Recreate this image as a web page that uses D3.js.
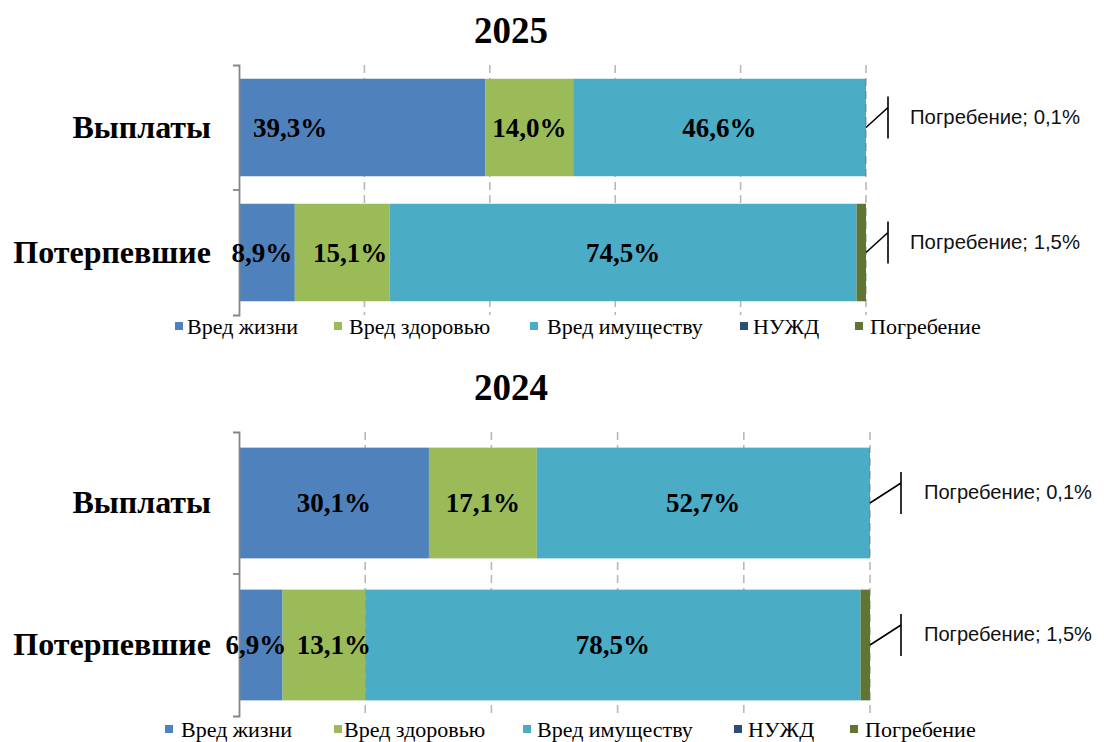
<!DOCTYPE html>
<html>
<head>
<meta charset="utf-8">
<script src="https://cdn.jsdelivr.net/npm/d3@7"></script>
<style>
  html, body { margin: 0; padding: 0; background: #fff; }
  svg { display: block; }
</style>
</head>
<body>
<svg id="chart" width="1104" height="742"></svg>
<script>
// ---- data ----
const categories = ["Выплаты", "Потерпевшие"];
const seriesNames = ["Вред жизни", "Вред здоровью", "Вред имуществу", "НУЖД", "Погребение"];
const seriesColors = ["#4F81BD", "#9BBB59", "#4BACC6", "#2C4D75", "#617532"];
const years = ["2025", "2024"];
const payments2025 = [39.3, 14.0, 46.6, 0, 0.1];
const victims2025 = [8.9, 15.1, 74.5, 0, 1.5];
const payments2024 = [30.1, 17.1, 52.7, 0, 0.1];
const victims2024 = [6.9, 13.1, 78.5, 0, 1.5];
const xTicks = [0, 20, 40, 60, 80, 100];

// ---- layout ----
const panels = [
  { year: years[0], rows: [payments2025, victims2025],
    x0: 239, x1: 866, y0: 65, y1: 315, titleY: 43,
    legendY: 326, legendX: [175, 334, 530, 740, 855], legendGap: [12, 15, 17, 13, 15],
    leadDx: 22, leadLabelX: 910, leadLen: 170, labelShift: { "0-0": -72, "1-0": -5, "1-1": 8 } },
  { year: years[1], rows: [payments2024, victims2024],
    x0: 239, x1: 870, y0: 432, y1: 716, titleY: 400,
    legendY: 729, legendX: [165, 334, 523, 734, 850], legendGap: [16, 10, 14, 14, 15],
    leadDx: 31, leadLabelX: 924, leadLen: 168, labelShift: { "1-0": -5, "1-1": 10 } }
];

const svg = d3.select("#chart");
const fmt = v => v.toFixed(1).replace(".", ",") + "%";
const serif = "'Liberation Serif', 'Times New Roman', serif";

panels.forEach(p => {
  const g = svg.append("g");
  const x = d3.scaleLinear().domain([0, 100]).range([p.x0, p.x1]);
  const y = d3.scaleBand().domain(categories).range([p.y0, p.y1])
    .paddingInner(0.22).paddingOuter(0.11);

  const table = categories.map((c, i) => {
    const o = { category: c };
    seriesNames.forEach((s, j) => o[s] = p.rows[i][j]);
    return o;
  });
  const stacked = d3.stack().keys(seriesNames)(table);

  // title
  g.append("text")
    .attr("x", 511).attr("y", p.titleY)
    .attr("text-anchor", "middle")
    .style("font-family", serif)
    .style("font-weight", "bold").style("font-size", "37px")
    .text(p.year);

  // gridlines
  g.append("g").selectAll("line")
    .data(xTicks.filter(t => t > 0))
    .join("line")
    .attr("x1", d => x(d)).attr("x2", d => x(d))
    .attr("y1", p.y0).attr("y2", p.y1)
    .attr("stroke", "#B8B8B8").attr("stroke-width", 1.6)
    .attr("stroke-dasharray", "8,5");

  // bars
  stacked.forEach((layer, j) => {
    g.append("g").attr("fill", seriesColors[j])
      .selectAll("rect")
      .data(layer.filter(d => d[1] - d[0] > 0))
      .join("rect")
      .attr("x", d => x(d[0]))
      .attr("width", d => x(d[1]) - x(d[0]))
      .attr("y", d => y(d.data.category))
      .attr("height", y.bandwidth());
  });

  // axis
  const axis = d3.axisLeft(y).tickSizeInner(0).tickSizeOuter(6).tickPadding(28);
  const ag = g.append("g").attr("transform", `translate(${p.x0},0)`).call(axis);
  ag.select(".domain").attr("stroke", "#868686").attr("stroke-width", 1.8);
  ag.selectAll(".tick text")
    .style("font-family", serif)
    .style("font-weight", "bold").style("font-size", "32px")
    .attr("fill", "#000");
  // category boundary tick
  ag.append("line")
    .attr("x1", -6).attr("x2", 0)
    .attr("y1", p.y0 + y.step()).attr("y2", p.y0 + y.step())
    .attr("stroke", "#868686").attr("stroke-width", 1.8);

  // data labels (first three series)
  stacked.slice(0, 3).forEach((layer, j) => {
    g.append("g").selectAll("text")
      .data(layer.map((d, i) => ({ d, i })).filter(o => o.d[1] - o.d[0] > 0))
      .join("text")
      .attr("x", o => (x(o.d[0]) + x(o.d[1])) / 2 + (p.labelShift[o.i + "-" + j] || 0))
      .attr("y", o => y(o.d.data.category) + y.bandwidth() / 2)
      .attr("dy", "0.35em")
      .attr("text-anchor", "middle")
      .style("font-family", serif)
      .style("font-weight", "bold").style("font-size", "27px")
      .text(o => fmt(o.d[1] - o.d[0]));
  });

  // callouts for the last series
  const last = stacked[stacked.length - 1];
  last.forEach(d => {
    const v = d[1] - d[0];
    if (v <= 0) return;
    const sx = x(d[1]);
    const sy = y(d.data.category) + y.bandwidth() / 2;
    const vx = sx + p.leadDx;
    const vy = sy - 20;
    g.append("path")
      .attr("d", `M${sx},${sy}L${vx},${vy}M${vx},${vy - 11}V${vy + 31}`)
      .attr("fill", "none").attr("stroke", "#000").attr("stroke-width", 1.6);
    g.append("text")
      .attr("x", p.leadLabelX).attr("y", vy + 9)
      .attr("dy", "0.35em")
      .attr("textLength", p.leadLen).attr("lengthAdjust", "spacingAndGlyphs")
      .style("font-family", "'Liberation Sans Narrow', 'Liberation Sans', Arial, sans-serif")
      .style("font-size", "21px").attr("fill", "#111")
      .text(`${last.key}; ${fmt(v)}`);
  });

  // legend
  const lg = g.append("g");
  seriesNames.forEach((s, j) => {
    lg.append("rect")
      .attr("x", p.legendX[j]).attr("y", p.legendY - 4)
      .attr("width", 8).attr("height", 8)
      .attr("fill", seriesColors[j]);
    lg.append("text")
      .attr("x", p.legendX[j] + p.legendGap[j]).attr("y", p.legendY)
      .attr("dy", "0.35em")
      .style("font-family", serif)
      .style("font-size", "22px").attr("fill", "#000")
      .text(s);
  });
});
</script>
</body>
</html>
